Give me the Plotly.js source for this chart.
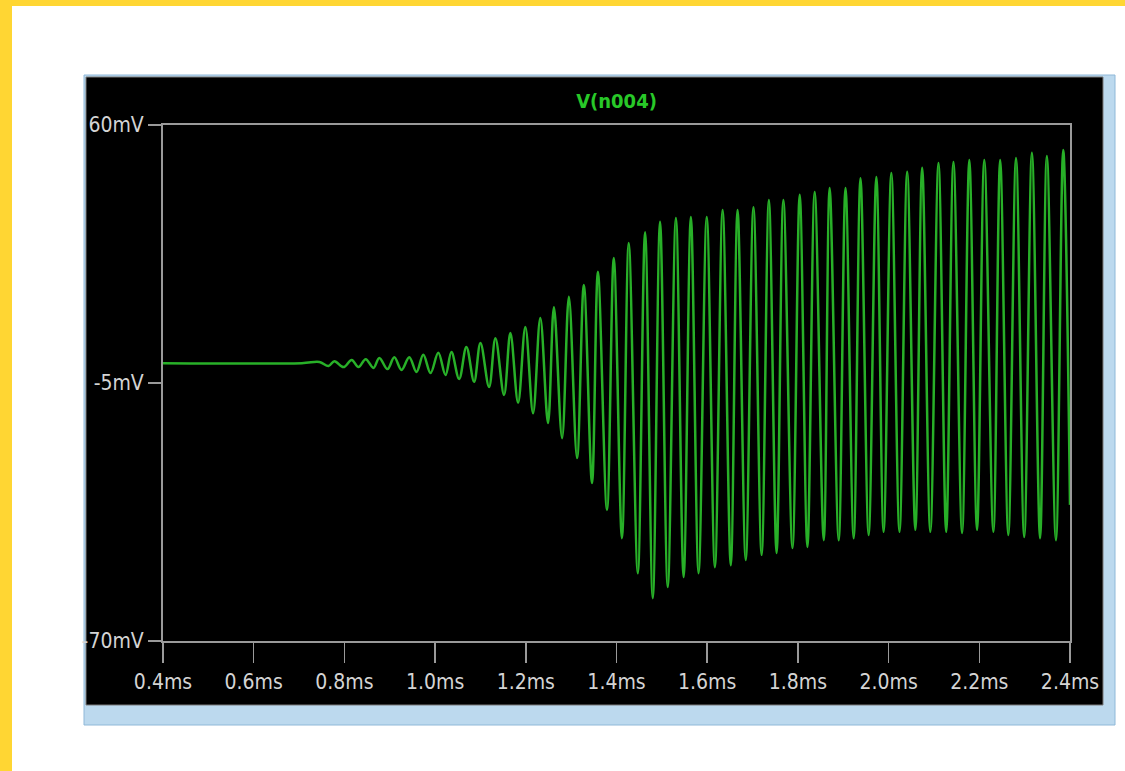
<!DOCTYPE html>
<html>
<head>
<meta charset="utf-8">
<script src="https://cdn.plot.ly/plotly-3.0.1.min.js"></script>
<style>
  html, body { margin: 0; padding: 0; background: #ffffff; }
  #chart { width: 1125px; height: 771px; }
</style>
</head>
<body>
<div id="chart"></div>
<script>
// ---- data (time in ms, voltage in mV at extrema) ----
const time_ms = [
  0.400, 0.706, 0.745, 0.765, 0.778, 0.798, 0.816, 0.831, 0.847, 0.864,
  0.877, 0.895, 0.910, 0.926, 0.943, 0.959, 0.974, 0.990, 1.007, 1.023,
  1.036, 1.053, 1.069, 1.086, 1.100, 1.119, 1.133, 1.152, 1.166, 1.183,
  1.199, 1.216, 1.232, 1.249, 1.262, 1.280, 1.295, 1.313, 1.328, 1.346,
  1.359, 1.379, 1.394, 1.412, 1.427, 1.447, 1.463, 1.480, 1.496, 1.513,
  1.531, 1.548, 1.564, 1.581, 1.599, 1.617, 1.634, 1.652, 1.667, 1.685,
  1.702, 1.720, 1.736, 1.753, 1.768, 1.788, 1.804, 1.821, 1.837, 1.857,
  1.870, 1.890, 1.905, 1.923, 1.938, 1.956, 1.973, 1.989, 2.006, 2.024,
  2.041, 2.059, 2.074, 2.092, 2.110, 2.127, 2.143, 2.162, 2.178, 2.195,
  2.211, 2.231, 2.246, 2.264, 2.281, 2.299, 2.316, 2.334, 2.349, 2.369,
  2.385, 2.400
];
const v_n004_mV = [
  0.0, 0.0, 0.3, -0.7, 0.5, -1.0, 0.8, -1.0, 1.0, -1.2,
  1.3, -1.5, 1.5, -1.7, 1.5, -2.2, 2.1, -2.5, 2.6, -3.0,
  2.8, -4.0, 4.1, -4.7, 5.1, -6.0, 6.3, -8.0, 7.6, -10.0,
  9.1, -12.6, 11.4, -15.1, 14.1, -18.9, 16.7, -23.9, 19.7, -30.2,
  23.0, -37.0, 26.5, -44.1, 30.3, -52.9, 33.0, -59.2, 35.6, -56.4,
  36.6, -53.9, 36.8, -52.9, 36.8, -51.4, 38.6, -50.9, 38.6, -49.6,
  39.3, -48.3, 41.1, -47.8, 41.1, -46.6, 42.4, -46.3, 43.1, -44.6,
  44.1, -44.6, 44.1, -44.1, 46.6, -43.3, 46.9, -42.5, 47.9, -42.5,
  48.2, -42.0, 49.2, -42.5, 50.4, -42.5, 50.7, -42.8, 51.2, -42.0,
  51.2, -42.5, 51.2, -43.3, 51.7, -43.8, 53.0, -44.1, 52.2, -44.6,
  53.7, -35.7
];
const xTickVals = [0.4, 0.6, 0.8, 1.0, 1.2, 1.4, 1.6, 1.8, 2.0, 2.2, 2.4];
const xTickText = ["0.4ms", "0.6ms", "0.8ms", "1.0ms", "1.2ms", "1.4ms", "1.6ms", "1.8ms", "2.0ms", "2.2ms", "2.4ms"];
const yTickVals = [60, -5, -70];
const yTickText = ["60mV", "-5mV", "-70mV"];
const traceName = "V(n004)";

// ---- layout geometry (pixels) ----
const W = 1125, H = 771;
const L = 163, R = 1070, T = 125, B = 641;
const px = p => (p - L) / (R - L);
const py = p => (B - p) / (B - T);

function rect(x0, y0, x1, y1, fill, line) {
  return {
    type: 'rect', xref: 'paper', yref: 'paper', layer: 'below',
    x0: px(x0), x1: px(x1), y0: py(y1), y1: py(y0),
    fillcolor: fill, line: line || { width: 0 }
  };
}

const condensed = '"DejaVu Sans Condensed", "Liberation Sans Narrow", sans-serif';
const tickFont = { family: condensed, size: 21, color: '#d4d4d4' };

const data = [{
  type: 'scatter', mode: 'lines', name: traceName,
  x: time_ms, y: v_n004_mV,
  line: { color: 'rgb(40,176,40)', width: 2.5, shape: 'spline', smoothing: 1 },
  hoverinfo: 'skip'
}];

const layout = {
  width: W, height: H,
  margin: { l: L, r: W - R, t: T, b: H - B, pad: 0 },
  paper_bgcolor: '#ffffff',
  plot_bgcolor: '#000000',
  showlegend: false,
  title: {
    text: traceName,
    font: { family: condensed, size: 20, weight: 'bold', color: 'rgb(40,200,40)' },
    x: 0.5, xref: 'paper', xanchor: 'center',
    y: 1 - 101 / H, yref: 'container', yanchor: 'middle'
  },
  xaxis: {
    range: [0.4, 2.4], showgrid: false, zeroline: false,
    showline: true, linecolor: '#9a9a9a', linewidth: 2, mirror: true,
    ticks: 'outside', ticklen: 20, tickwidth: 1.5, tickcolor: '#9a9a9a',
    tickvals: xTickVals, ticktext: xTickText, tickfont: tickFont,
    ticklabelstandoff: 1
  },
  yaxis: {
    range: [-70, 60], showgrid: false, zeroline: false,
    showline: true, linecolor: '#9a9a9a', linewidth: 2, mirror: true,
    ticks: 'outside', ticklen: 13, tickwidth: 1.5, tickcolor: '#9a9a9a',
    tickvals: yTickVals, ticktext: yTickText, tickfont: tickFont,
    ticklabelstandoff: 0
  },
  shapes: [
    rect(0, 0, 12, H, '#FFD633'),
    rect(0, 0, W, 6, '#FFD633'),
    rect(84, 75, 1115, 725, '#bcd9ee', { width: 1, color: '#8fb8d8' }),
    rect(86, 77, 1103, 705, '#000000', { width: 1, color: '#7a7a7a' })
  ]
};

Plotly.newPlot('chart', data, layout, { staticPlot: true, displayModeBar: false });
</script>
</body>
</html>
